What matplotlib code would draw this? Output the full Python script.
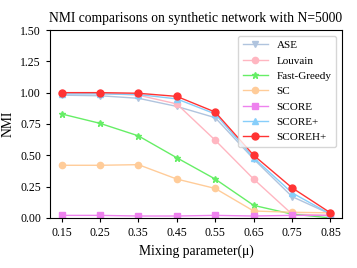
import matplotlib
matplotlib.use('Agg')
import matplotlib.pyplot as plt

mu = [0.15, 0.25, 0.35, 0.45, 0.55, 0.65, 0.75, 0.85]
ase = [0.98, 0.975, 0.955, 0.89, 0.80, 0.47, 0.17, 0.03]
louvain = [1.0, 0.995, 0.98, 0.91, 0.62, 0.31, 0.03, 0.02]
fast_greedy = [0.83, 0.755, 0.655, 0.48, 0.31, 0.10, 0.03, 0.0]
sc = [0.42, 0.42, 0.425, 0.31, 0.235, 0.055, 0.045, 0.04]
score = [0.02, 0.02, 0.015, 0.015, 0.02, 0.015, 0.02, 0.02]
score_plus = [0.99, 0.99, 0.985, 0.95, 0.83, 0.48, 0.20, 0.03]
scoreh_plus = [1.0, 1.0, 0.995, 0.97, 0.845, 0.50, 0.24, 0.04]

plt.rcParams['font.family'] = ['Liberation Serif', 'DejaVu Serif']

fig = plt.figure(figsize=(3.57, 2.68), dpi=100)
ax = fig.add_axes([0.14, 0.187, 0.818, 0.701])

series = [
    ('ASE', ase, '#b0c4de', 'v', 4.5),
    ('Louvain', louvain, '#ffb6c1', 'o', 4.5),
    ('Fast-Greedy', fast_greedy, '#66ee66', '*', 5),
    ('SC', sc, '#ffcc99', 'o', 4.5),
    ('SCORE', score, '#ee82ee', 's', 4.5),
    ('SCORE+', score_plus, '#87cefa', '^', 4.5),
    ('SCOREH+', scoreh_plus, '#ff3333', 'o', 5),
]
for name, vals, color, marker, ms in series:
    ax.plot(mu, vals, color=color, marker=marker, markersize=ms,
            linewidth=1.0, label=name)

ax.set_xlim(0.12, 0.88)
ax.set_ylim(0, 1.5)
ax.set_xticks(mu)
ax.set_xticklabels([f'{m:.2f}' for m in mu])
ax.set_yticks([0, 0.25, 0.5, 0.75, 1.0, 1.25, 1.5])
ax.set_yticklabels(['0.00', '0.25', '0.50', '0.75', '1.00', '1.25', '1.50'])
ax.tick_params(labelsize=8.5, length=3)

ax.set_title('NMI comparisons on synthetic network with N=5000', fontsize=9.8, pad=6)
ax.set_xlabel('Mixing parameter(\u03bc)', fontsize=9.8)
ax.set_ylabel('NMI', fontsize=9.8)

ax.legend(loc='upper right', fontsize=8, frameon=True, handlelength=2.2,
          labelspacing=0.5, borderpad=0.45, edgecolor='#cccccc')

fig.savefig('out.png', dpi=100)
